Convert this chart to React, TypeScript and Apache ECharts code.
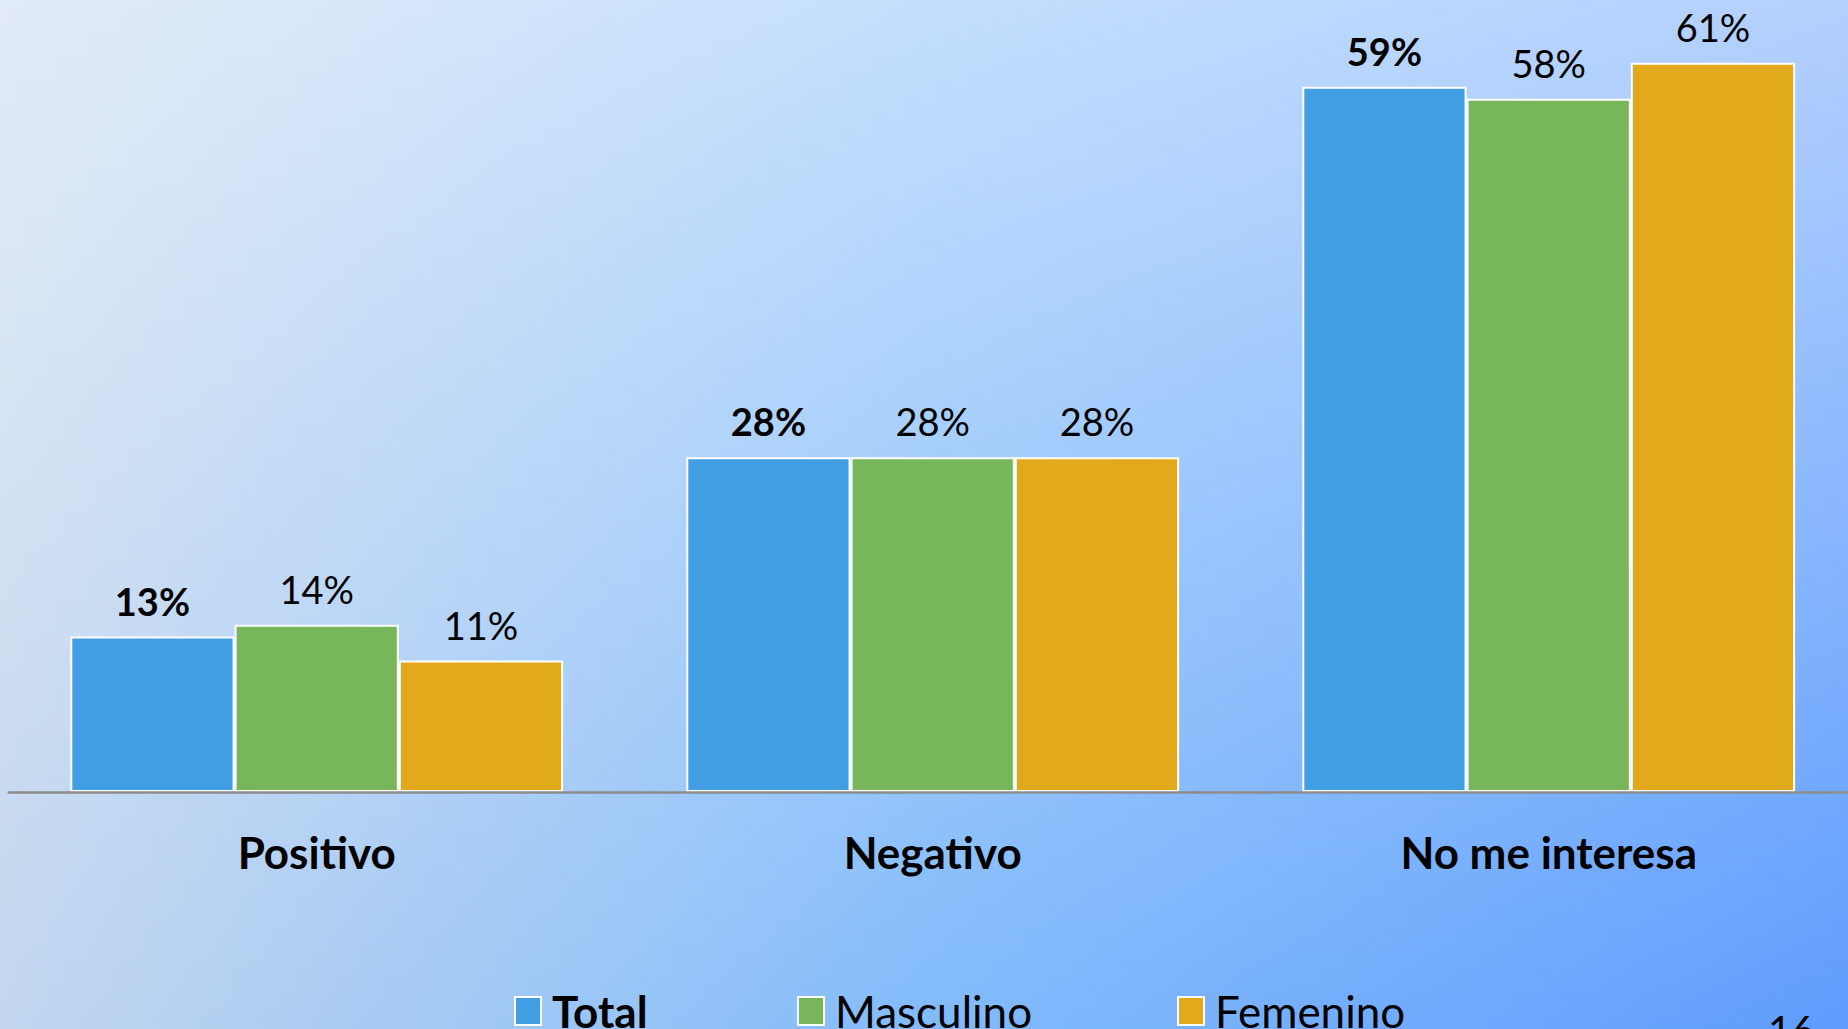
import React, { useEffect, useRef } from "react";
import * as echarts from "echarts";

const categories = ["Positivo", "Negativo", "No me interesa"];
const seriesNames = ["Total", "Masculino", "Femenino"];
const totalValues = [13, 28, 59];
const masculinoValues = [14, 28, 58];
const femeninoValues = [11, 28, 61];
const colors = ["#419ee2", "#77b65a", "#e2a91c"];
const pageNumber = "16";

const FONT = "Lato, 'Open Sans', sans-serif";

export default function App() {
  const ref = useRef<HTMLDivElement>(null);

  useEffect(() => {
    if (!ref.current) return;
    const chart = echarts.init(ref.current, undefined, { renderer: "svg" });
    const valuesList = [totalValues, masculinoValues, femeninoValues];
    const series = seriesNames.map((name, i) => ({
      name,
      type: "bar",
      data: valuesList[i],
      barGap: "0%",
      barCategoryGap: "20%",
      itemStyle: { color: colors[i], borderColor: "#ffffff", borderWidth: 2 },
      label: {
        show: true,
        position: "top",
        distance: 17,
        formatter: "{c}%",
        color: "#000000",
        fontFamily: FONT,
        fontSize: 38,
        fontWeight: i === 0 ? "bold" : "normal",
      },
    }));
    const legendLefts = [514, 797, 1177];
    const legends = seriesNames.map((name, i) => ({
      data: [
        {
          name,
          icon: "rect",
          textStyle: { fontWeight: i === 0 ? "bold" : "normal" },
        },
      ],
      left: legendLefts[i],
      top: 989,
      itemWidth: 26,
      itemHeight: 28,
      padding: 0,
      selectedMode: false,
      textStyle: {
        fontFamily: FONT,
        fontSize: 44,
        color: "#000000",
        padding: [0, 0, 0, 6],
      },
    }));
    chart.setOption({
      animation: false,
      backgroundColor: "transparent",
      grid: { left: 8.7, right: 9.3, top: 3, bottom: 237, containLabel: false },
      legend: legends,
      xAxis: {
        type: "category",
        data: categories,
        z: 5,
        axisLine: { show: true, lineStyle: { color: "#8c8c8c", width: 2.5 } },
        axisTick: { show: false },
        axisLabel: {
          margin: 38,
          color: "#000000",
          fontFamily: FONT,
          fontSize: 44,
          fontWeight: "bold",
        },
        splitLine: { show: false },
      },
      yAxis: {
        type: "value",
        min: 0,
        max: 66,
        show: false,
        splitLine: { show: false },
      },
      graphic: [
        {
          type: "text",
          left: 1768,
          top: 1010,
          style: {
            text: pageNumber,
            fontFamily: FONT,
            fontSize: 40,
            fill: "#000000",
          },
        },
      ],
      series,
    });
    return () => chart.dispose();
  }, []);

  return (
    <div
      style={{
        position: "fixed",
        left: 0,
        top: 0,
        width: 1848,
        height: 1029,
        overflow: "hidden",
        background:
          "linear-gradient(to bottom, rgba(255,255,255,0.53), rgba(255,255,255,0)), linear-gradient(to right, #c2d6ee 0%, #82bbfb 50%, #5e9cfd 100%)",
      }}
    >
      <div ref={ref} style={{ width: 1866, height: 1029 }} />
    </div>
  );
}
